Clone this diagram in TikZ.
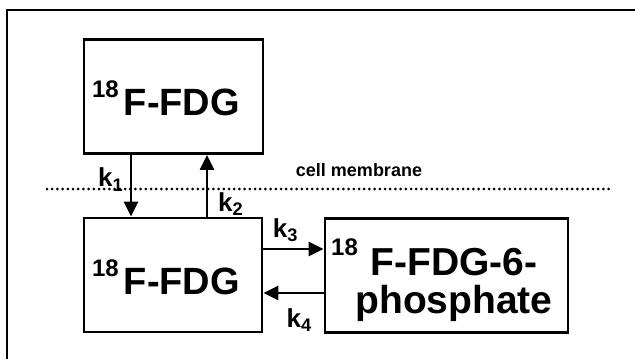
\documentclass[tikz,border=0pt]{standalone}
\usepackage{fontspec}
\setmainfont{Liberation Sans}
\usetikzlibrary{arrows.meta,positioning}
\newcommand{\iso}[1]{{\fontsize{12}{12}\selectfont\raisebox{9pt}{#1}}}
\tikzstyle{pool} = [rectangle, draw, line width=1.4pt,
                    minimum width=89pt, minimum height=57pt,
                    inner sep=0pt]
\tikzstyle{species} = [font=\fontsize{19}{17.5}\selectfont\bfseries,
                       inner sep=0pt, align=center]
\tikzstyle{rate} = [font=\fontsize{13}{14}\selectfont\bfseries, inner sep=0pt]
\tikzstyle{arrow} = [-{Triangle[length=7.5pt,width=7pt]}, line width=1.2pt]
\tikzstyle{membrane} = [line width=1.5pt, line cap=round, dash pattern=on 0pt off 2.6pt]

\begin{document}
\begin{tikzpicture}[x=0.5pt, y=-0.5pt]
    \useasboundingbox (0,0) rectangle (635,358);
    \clip (0,0) rectangle (635,358);

    % Frame
    \draw[line width=1.1pt] (7,370) -- (7,10) -- (650,10);

    % Pools
    \node[pool, minimum width=89.5pt] (fdgout) at (173.5,96.5) {};
    \node[pool] (fdgin) at (173,275) {};
    \node[pool, minimum width=121.5pt] (fdgp) at (446.5,275.5) {};

    % Pool labels
    \node[species] (fdgoutlabel) at (166,98) {\iso{18}\hspace{2.5pt}F-FDG};
    \node[species] (fdginlabel) at (166,277) {\iso{18}\hspace{2.5pt}F-FDG};
    \node[species, font=\fontsize{19.5}{19}\selectfont\bfseries] (fdgplabel) at (454,285) {F-FDG-6-\\phosphate};
    \node[inner sep=0pt, font=\fontsize{12}{12}\selectfont\bfseries] (fdgpiso) at (344.5,247.5) {18};

    % Cell membrane
    \draw[membrane] (47,189) -- (610,189);
    \node[inner sep=0pt, font=\fontsize{9}{10}\selectfont\bfseries] (membranelabel) at (359,170) {cell membrane};

    % Transport and phosphorylation
    \draw[arrow] ([xshift=-21.25pt]fdgout.south) -- ([xshift=-21pt]fdgin.north)
        node[rate, pos=0.4, left=3pt] (k1) {k\textsubscript{1}};
    \draw[arrow] ([xshift=17pt]fdgin.north) -- ([xshift=16.75pt]fdgout.south)
        node[rate, pos=0.2, right=5pt] (k2) {k\textsubscript{2}};
    \draw[arrow] ([yshift=13pt]fdgin.east) -- ([yshift=13.25pt]fdgp.west)
        node[rate, pos=0.37, above=3pt] (k3) {k\textsubscript{3}};
    \draw[arrow] ([yshift=-8.75pt]fdgp.west) -- ([yshift=-9pt]fdgin.east)
        node[rate, pos=0.4, below=7pt] (k4) {k\textsubscript{4}};
\end{tikzpicture}
\end{document}
